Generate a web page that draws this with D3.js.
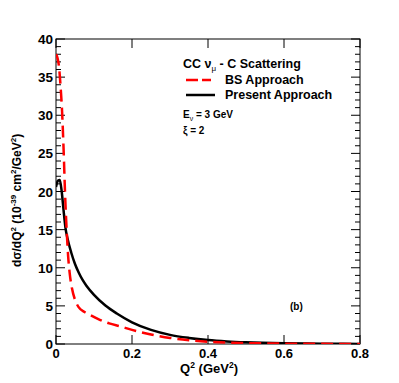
<!DOCTYPE html>
<html>
<head>
<meta charset="utf-8">
<script src="https://cdn.jsdelivr.net/npm/d3@7"></script>
<style>
body { margin: 0; background: #fff; }
text { font-family: "Liberation Sans", Arial, sans-serif; font-weight: bold; }
</style>
</head>
<body>
<script>
// Q^2 (GeV^2) and dsigma/dQ^2 for the two approaches
var bsQ2 = [0, 0.004, 0.008, 0.012, 0.016, 0.02, 0.024, 0.028, 0.032, 0.036, 0.042, 0.05, 0.06, 0.075, 0.09, 0.11, 0.14, 0.17, 0.2, 0.25, 0.3, 0.35, 0.4, 0.5, 0.6, 0.7, 0.8];
var bsVal = [38.0, 37.5, 36.3, 33.8, 30.5, 25.5, 19.5, 15.0, 11.5, 9.3, 7.3, 5.8, 4.8, 4.2, 3.8, 3.3, 2.7, 2.3, 1.85, 1.25, 0.8, 0.5, 0.3, 0.12, 0.05, 0.02, 0.01];
var presQ2 = [0, 0.005, 0.01, 0.015, 0.02, 0.025, 0.03, 0.04, 0.05, 0.06, 0.07, 0.08, 0.1, 0.13, 0.16, 0.2, 0.25, 0.3, 0.35, 0.4, 0.45, 0.5, 0.6, 0.7, 0.8];
var presVal = [20.6, 21.4, 21.5, 20.0, 17.5, 15.2, 13.9, 12.0, 10.5, 9.35, 8.4, 7.65, 6.45, 5.05, 4.0, 2.85, 1.85, 1.2, 0.8, 0.52, 0.34, 0.22, 0.09, 0.04, 0.01];

var xTicks = [0, 0.2, 0.4, 0.6, 0.8];
var yTicks = [0, 5, 10, 15, 20, 25, 30, 35, 40];

var W = 399, H = 383;
var margin = {top: 39, left: 56, right: 39, bottom: 39};
var w = W - margin.left - margin.right, h = H - margin.top - margin.bottom;

var svg = d3.select("body").append("svg").attr("width", W).attr("height", H);
var g = svg.append("g").attr("transform", `translate(${margin.left},${margin.top})`);

var x = d3.scaleLinear().domain([0, 0.8]).range([0, w]);
var y = d3.scaleLinear().domain([0, 40]).range([h, 0]);

var minorY = d3.range(0, 41, 1);

// frame
g.append("rect").attr("width", w).attr("height", h).attr("fill", "none").attr("stroke", "#000").attr("stroke-width", 1);

// ticks pointing inward, ROOT style
var tk = g.append("g").attr("stroke", "#000").attr("stroke-width", 1);
minorY.forEach(function(v){
  var len = v % 5 === 0 ? 9 : 5;
  tk.append("line").attr("x1", 0).attr("x2", len).attr("y1", y(v)).attr("y2", y(v));
  tk.append("line").attr("x1", w).attr("x2", w - len).attr("y1", y(v)).attr("y2", y(v));
});
xTicks.forEach(function(v){
  tk.append("line").attr("x1", x(v)).attr("x2", x(v)).attr("y1", h).attr("y2", h - 9);
  tk.append("line").attr("x1", x(v)).attr("x2", x(v)).attr("y1", 0).attr("y2", 9);
});

// tick labels
g.selectAll(".yl").data(yTicks).enter().append("text")
  .attr("x", -3).attr("y", function(d){ return y(d) + 5; })
  .attr("text-anchor", "end").attr("font-size", 13.5).text(function(d){ return d; });
g.selectAll(".xl").data(xTicks).enter().append("text")
  .attr("x", function(d){ return x(d); }).attr("y", h + 13.5)
  .attr("text-anchor", "middle").attr("font-size", 13).text(function(d){ return d; });

// curves
var line = d3.line().curve(d3.curveMonotoneX);
g.append("clipPath").attr("id", "c").append("rect").attr("width", w).attr("height", h);
g.append("path")
  .attr("d", line(presQ2.map(function(q, i){ return [x(q), y(presVal[i])]; })))
  .attr("fill", "none").attr("stroke", "#000").attr("stroke-width", 2.5).attr("clip-path", "url(#c)");
g.append("path")
  .attr("d", line(bsQ2.map(function(q, i){ return [x(q), y(bsVal[i])]; })))
  .attr("fill", "none").attr("stroke", "#ff0000").attr("stroke-width", 2.5)
  .attr("stroke-dasharray", "12,6").attr("clip-path", "url(#c)");

// axis titles
var xt = svg.append("text").attr("x", 238).attr("y", 373).attr("text-anchor", "end").attr("font-size", 13);
xt.append("tspan").text("Q");
xt.append("tspan").attr("dy", -5).attr("font-size", 8.5).text("2");
xt.append("tspan").attr("dy", 5).text(" (GeV");
xt.append("tspan").attr("dy", -5).attr("font-size", 8.5).text("2");
xt.append("tspan").attr("dy", 5).text(")");

var yt = svg.append("text").attr("transform", "translate(21,267) rotate(-90)").attr("font-size", 12);
yt.append("tspan").text("d\u03c3/dQ");
yt.append("tspan").attr("dy", -5).attr("font-size", 8).text("2");
yt.append("tspan").attr("dy", 5).text("  (10");
yt.append("tspan").attr("dy", -5).attr("font-size", 8).text("-39");
yt.append("tspan").attr("dy", 5).text(" cm");
yt.append("tspan").attr("dy", -5).attr("font-size", 8).text("2");
yt.append("tspan").attr("dy", 5).text("/GeV");
yt.append("tspan").attr("dy", -5).attr("font-size", 8).text("2");
yt.append("tspan").attr("dy", 5).text(")");

// legend
var t1 = svg.append("text").attr("x", 183).attr("y", 68).attr("font-size", 12.5);
t1.append("tspan").text("CC  \u03bd");
t1.append("tspan").attr("dy", 3).attr("font-size", 8).attr("font-weight", "normal").text("\u03bc");
t1.append("tspan").attr("dy", -3).text(" - C Scattering");

svg.append("line").attr("x1", 186).attr("x2", 211).attr("y1", 80).attr("y2", 80)
  .attr("stroke", "#ff0000").attr("stroke-width", 2.5).attr("stroke-dasharray", "12,4");
svg.append("text").attr("x", 225).attr("y", 84).attr("font-size", 12.5).text("BS Approach");
svg.append("line").attr("x1", 186).attr("x2", 215).attr("y1", 95).attr("y2", 95)
  .attr("stroke", "#000").attr("stroke-width", 2.5);
svg.append("text").attr("x", 225).attr("y", 99).attr("font-size", 12.5).text("Present Approach");

var t2 = svg.append("text").attr("x", 183).attr("y", 118).attr("font-size", 10);
t2.append("tspan").text("E");
t2.append("tspan").attr("dy", 3).attr("font-size", 7).attr("font-weight", "normal").text("\u03bd");
t2.append("tspan").attr("dy", -3).text(" = 3 GeV");
svg.append("text").attr("x", 183).attr("y", 134).attr("font-size", 10).text("\u03be = 2");

svg.append("text").attr("x", 290).attr("y", 310).attr("font-size", 10).text("(b)");
</script>
</body>
</html>
